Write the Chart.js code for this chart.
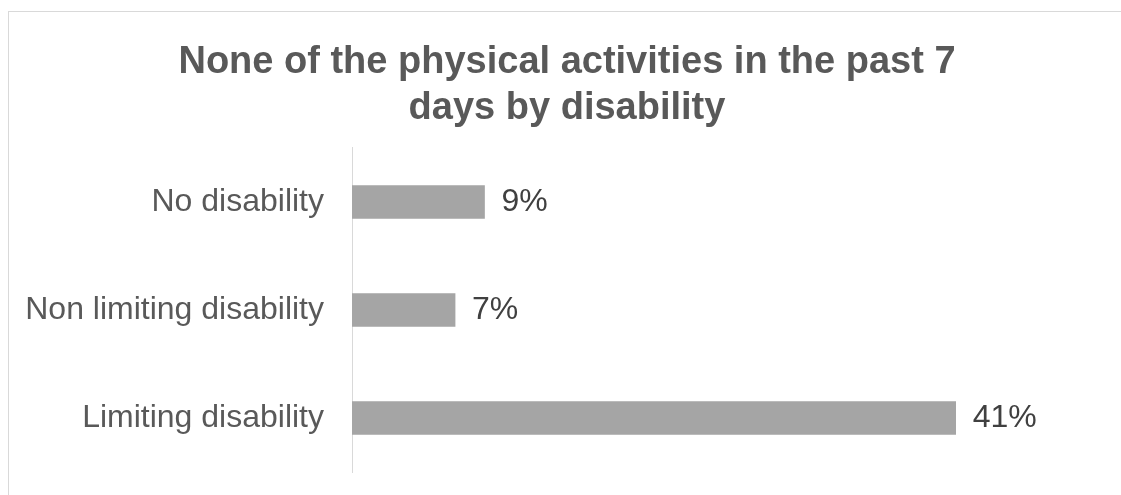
<!DOCTYPE html>
<html>
<head>
<meta charset="utf-8">
<script src="https://cdn.jsdelivr.net/npm/chart.js@4"></script>
<style>
  html, body { margin: 0; padding: 0; background: #fff; overflow: hidden; }
  #frame {
    position: absolute;
    left: 8px;
    top: 11px;
    width: 1116px;
    height: 518px;
    border: 1px solid #d9d9d9;
    border-right: none;
  }
  #chart { display: block; }
</style>
</head>
<body>
<div id="frame">
  <canvas id="chart" width="1116" height="518"></canvas>
</div>
<script>
/* ========================================
   DATA
======================================== */

const titleLines = ["None of the physical activities in the past 7", "days by disability"];
const categories = ["No disability", "Non limiting disability", "Limiting disability"];
const percentages = [9, 7, 41];

const FONT = "'Liberation Sans', Arial, sans-serif";

/* ========================================
   VALUE LABELS (drawn right of each bar)
======================================== */

const valueLabels = {
  id: "valueLabels",
  afterDatasetsDraw(chart) {
    const ctx = chart.ctx;
    const meta = chart.getDatasetMeta(0);

    ctx.save();
    ctx.font = "32px " + FONT;
    ctx.fillStyle = "#404040";
    ctx.textAlign = "left";
    ctx.textBaseline = "middle";

    meta.data.forEach((bar, i) => {
      ctx.fillText(percentages[i] + "%", bar.x + 17, bar.y);
    });

    ctx.restore();
  }
};

/* ========================================
   CHART
======================================== */

new Chart(document.getElementById("chart"), {
  type: "bar",
  data: {
    labels: categories,
    datasets: [{
      data: percentages,
      backgroundColor: "#a5a5a5",
      borderWidth: 0,
      barThickness: 33
    }]
  },
  plugins: [valueLabels],
  options: {
    indexAxis: "y",
    responsive: false,
    animation: false,
    layout: {
      padding: { left: 0, right: 0, top: 0, bottom: 58 }
    },
    plugins: {
      legend: { display: false },
      tooltip: { enabled: false },
      title: {
        display: true,
        text: titleLines,
        color: "#595959",
        font: { family: FONT, size: 38, weight: "bold", lineHeight: 1.21 },
        padding: { top: 28, bottom: 16 }
      }
    },
    scales: {
      x: {
        display: false,
        min: 0,
        max: 52.5
      },
      y: {
        grid: { display: false, drawTicks: false },
        border: { display: true, color: "#d9d9d9", width: 1 },
        ticks: {
          color: "#595959",
          padding: 28,
          font: { family: FONT, size: 32 }
        },
        afterFit(scale) {
          scale.width = 343;
        }
      }
    }
  }
});
</script>
</body>
</html>
